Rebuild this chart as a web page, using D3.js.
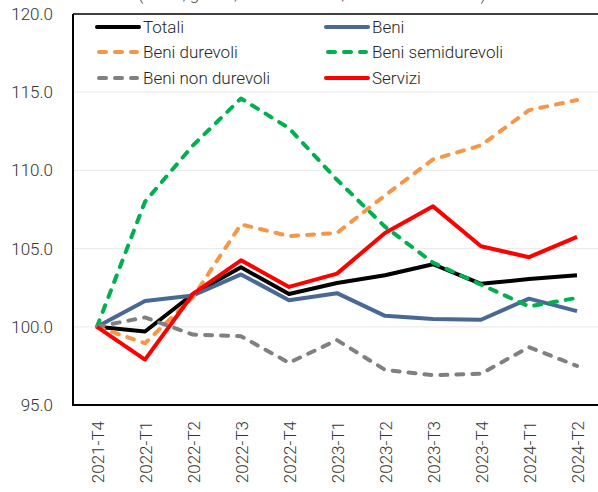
<!DOCTYPE html>
<html><head><meta charset="utf-8">
<script src="https://cdn.jsdelivr.net/npm/d3@7"></script>
<style>
html,body{margin:0;padding:0;background:#fff;}
svg{display:block;font-family:Roboto,"Noto Sans",sans-serif;}
</style></head>
<body><svg id="c" width="598" height="492"></svg>
<script>
const categories = ["2021-T4","2022-T1","2022-T2","2022-T3","2022-T4","2023-T1","2023-T2","2023-T3","2023-T4","2024-T1","2024-T2"];
const totali        = [100, 99.7, 102.1, 103.8, 102.1, 102.8, 103.3, 104.0, 102.75, 103.05, 103.3];
const beni          = [100, 101.65, 102.0, 103.35, 101.7, 102.15, 100.7, 100.5, 100.45, 101.8, 101.0];
const beniDurevoli  = [100, 98.95, 101.9, 106.55, 105.8, 106.0, 108.4, 110.7, 111.6, 113.85, 114.5];
const beniSemidur   = [100, 108.0, 111.6, 114.6, 112.7, 109.4, 106.4, 104.1, 102.7, 101.3, 101.85];
const beniNonDur    = [100, 100.6, 99.5, 99.4, 97.7, 99.15, 97.25, 96.9, 97.0, 98.7, 97.5];
const servizi       = [100, 97.9, 102.1, 104.25, 102.55, 103.4, 106.0, 107.7, 105.15, 104.45, 105.75];
const seriesNames   = ["Totali","Beni","Beni durevoli","Beni semidurevoli","Beni non durevoli","Servizi"];
const yTicks = [95,100,105,110,115,120];
const titleText = "(indici, grezzi, 2021-T4=100, valori concatenati)";

const seriesValues = [totali, beni, beniDurevoli, beniSemidur, beniNonDur, servizi];
const colors = ["#000000","#4A6894","#F79646","#00B050","#808080","#FF0000"];
const dashed = [false,false,true,true,true,false];

const svg = d3.select("#c");
const L = 73, R = 601, T = 14, B = 405;
const x = d3.scalePoint().domain(categories).range([L, R]).padding(0.5);
const y = d3.scaleLinear().domain([95,120]).range([B, T]);

// partially visible title
svg.append("text").attr("x", 312).attr("y", 0).attr("text-anchor","middle")
  .attr("font-size", 17).attr("font-weight", 300).attr("fill","#404040").text(titleText);

// gridlines
svg.append("g").selectAll("line").data(yTicks.filter(d => d > 95 && d < 120)).join("line")
  .attr("x1", L).attr("x2", R).attr("y1", d => y(d)).attr("y2", d => y(d))
  .attr("stroke", "#ececec").attr("stroke-width", 1.3);

// y axis
const ya = svg.append("g").attr("transform", `translate(${L},0)`)
  .call(d3.axisLeft(y).tickValues(yTicks).tickFormat(d3.format(".1f")).tickSize(0).tickPadding(20));
ya.select(".domain").remove();
ya.selectAll("text").attr("font-size", 17).attr("font-family","Roboto").attr("font-weight",300).attr("fill","#333");

// x axis
const xa = svg.append("g").attr("transform", `translate(0,${B})`)
  .call(d3.axisBottom(x).tickSize(0));
xa.select(".domain").remove();
xa.selectAll("text").attr("transform","rotate(-90)").attr("x",-16).attr("y",0).attr("dy","0.36em")
  .attr("text-anchor","end").attr("font-size",17).attr("font-family","Roboto").attr("font-weight",300).attr("fill","#333");

// frame
svg.append("line").attr("x1", L).attr("x2", R).attr("y1", T).attr("y2", T).attr("stroke","#404040").attr("stroke-width",2.2);
svg.append("line").attr("x1", L).attr("x2", L).attr("y1", T).attr("y2", B+1).attr("stroke","#000").attr("stroke-width",2);
svg.append("line").attr("x1", L-1).attr("x2", R).attr("y1", B).attr("y2", B).attr("stroke","#000").attr("stroke-width",2);

// lines
const line = d3.line().x((d,i) => x(categories[i])).y(d => y(d));
svg.append("g").selectAll("path").data(seriesValues).join("path")
  .attr("d", d => line(d)).attr("fill","none")
  .attr("stroke", (d,i) => colors[i]).attr("stroke-width", 4)
  .attr("stroke-linejoin","round")
  .attr("stroke-linecap", (d,i) => dashed[i] ? "round" : "butt")
  .attr("stroke-dasharray", (d,i) => dashed[i] ? "7,9" : null);

// legend
const legX = [97, 326], legRowY = [27, 52, 78];
const lg = svg.append("g").selectAll("g").data(seriesNames).join("g")
  .attr("transform", (d,i) => `translate(${legX[i%2]},${legRowY[Math.floor(i/2)]})`);
lg.append("line").attr("x1", (d,i) => dashed[i] ? 2 : 0).attr("x2", (d,i) => dashed[i] ? 40 : 42)
  .attr("stroke", (d,i) => colors[i]).attr("stroke-width", 4)
  .attr("stroke-linecap", "round")
  .attr("stroke-dasharray", (d,i) => dashed[i] ? "7,9" : null);
lg.append("text").attr("x", 46).attr("dy","0.35em").attr("font-size",17).attr("font-weight",300)
  .attr("fill","#262626").text(d => d);
</script>
</body></html>
